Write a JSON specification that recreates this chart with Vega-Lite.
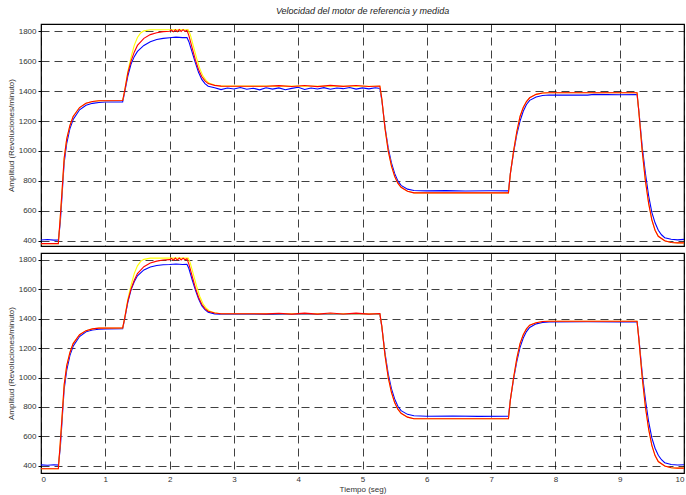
{
"$schema": "https://vega.github.io/schema/vega-lite/v6.json",
"padding": {"left": 6, "top": 7, "right": 0, "bottom": 2},
"background": "white",
"title": {"text": "Velocidad del motor de referencia y medida", "anchor": "middle", "frame": "group", "fontStyle": "italic", "fontWeight": "normal", "fontSize": 9, "font": "Liberation Sans", "color": "#222", "offset": 7},
"config": {
  "font": "Liberation Sans",
  "view": {"stroke": "black", "strokeWidth": 1.2},
  "axis": {"grid": true, "gridDash": [8, 5], "gridColor": "#000", "gridOpacity": 0.75, "gridWidth": 1, "domain": false, "tickColor": "#000", "tickSize": 3, "labelFontSize": 8, "labelColor": "#333", "titleFontSize": 8, "titleFontWeight": "normal", "titleColor": "#333", "format": "d"},
  "concat": {"spacing": 5}
},
"datasets": {
"d": [
{"p":1,"s":"B","t":0,"v":405},{"p":1,"s":"B","t":0.1,"v":408},{"p":1,"s":"B","t":0.2,"v":404},{"p":1,"s":"B","t":0.27,"v":406},{"p":1,"s":"B","t":0.3,"v":520},{"p":1,"s":"B","t":0.33,"v":720},{"p":1,"s":"B","t":0.36,"v":920},{"p":1,"s":"B","t":0.4,"v":1050},{"p":1,"s":"B","t":0.45,"v":1150},{"p":1,"s":"B","t":0.5,"v":1210},{"p":1,"s":"B","t":0.6,"v":1275},{"p":1,"s":"B","t":0.7,"v":1305},{"p":1,"s":"B","t":0.8,"v":1318},{"p":1,"s":"B","t":0.9,"v":1324},{"p":1,"s":"B","t":1.0,"v":1327},{"p":1,"s":"B","t":1.27,"v":1328},{"p":1,"s":"B","t":1.3,"v":1390},{"p":1,"s":"B","t":1.35,"v":1500},{"p":1,"s":"B","t":1.4,"v":1580},{"p":1,"s":"B","t":1.45,"v":1630},{"p":1,"s":"B","t":1.5,"v":1665},{"p":1,"s":"B","t":1.6,"v":1705},{"p":1,"s":"B","t":1.7,"v":1730},{"p":1,"s":"B","t":1.8,"v":1745},{"p":1,"s":"B","t":1.9,"v":1752},{"p":1,"s":"B","t":2.0,"v":1756},{"p":1,"s":"B","t":2.1,"v":1760},{"p":1,"s":"B","t":2.2,"v":1757},{"p":1,"s":"B","t":2.27,"v":1758},{"p":1,"s":"B","t":2.3,"v":1730},{"p":1,"s":"B","t":2.35,"v":1660},{"p":1,"s":"B","t":2.4,"v":1590},{"p":1,"s":"B","t":2.45,"v":1525},{"p":1,"s":"B","t":2.5,"v":1478},{"p":1,"s":"B","t":2.55,"v":1450},{"p":1,"s":"B","t":2.6,"v":1432},{"p":1,"s":"B","t":2.7,"v":1422},{"p":1,"s":"B","t":2.8,"v":1410},{"p":1,"s":"B","t":2.9,"v":1420},{"p":1,"s":"B","t":3.0,"v":1414},{"p":1,"s":"B","t":3.1,"v":1424},{"p":1,"s":"B","t":3.2,"v":1412},{"p":1,"s":"B","t":3.3,"v":1419},{"p":1,"s":"B","t":3.4,"v":1408},{"p":1,"s":"B","t":3.5,"v":1422},{"p":1,"s":"B","t":3.6,"v":1413},{"p":1,"s":"B","t":3.7,"v":1421},{"p":1,"s":"B","t":3.8,"v":1409},{"p":1,"s":"B","t":3.9,"v":1418},{"p":1,"s":"B","t":4.0,"v":1425},{"p":1,"s":"B","t":4.1,"v":1411},{"p":1,"s":"B","t":4.2,"v":1420},{"p":1,"s":"B","t":4.3,"v":1414},{"p":1,"s":"B","t":4.4,"v":1423},{"p":1,"s":"B","t":4.5,"v":1412},{"p":1,"s":"B","t":4.6,"v":1420},{"p":1,"s":"B","t":4.7,"v":1416},{"p":1,"s":"B","t":4.8,"v":1424},{"p":1,"s":"B","t":4.9,"v":1413},{"p":1,"s":"B","t":5.0,"v":1421},{"p":1,"s":"B","t":5.1,"v":1415},{"p":1,"s":"B","t":5.2,"v":1422},{"p":1,"s":"B","t":5.27,"v":1418},{"p":1,"s":"B","t":5.3,"v":1340},{"p":1,"s":"B","t":5.35,"v":1160},{"p":1,"s":"B","t":5.4,"v":1020},{"p":1,"s":"B","t":5.45,"v":920},{"p":1,"s":"B","t":5.5,"v":850},{"p":1,"s":"B","t":5.55,"v":800},{"p":1,"s":"B","t":5.6,"v":770},{"p":1,"s":"B","t":5.7,"v":745},{"p":1,"s":"B","t":5.8,"v":736},{"p":1,"s":"B","t":6.0,"v":733},{"p":1,"s":"B","t":6.3,"v":735},{"p":1,"s":"B","t":6.6,"v":732},{"p":1,"s":"B","t":7.0,"v":734},{"p":1,"s":"B","t":7.27,"v":733},{"p":1,"s":"B","t":7.3,"v":850},{"p":1,"s":"B","t":7.35,"v":990},{"p":1,"s":"B","t":7.4,"v":1110},{"p":1,"s":"B","t":7.45,"v":1200},{"p":1,"s":"B","t":7.5,"v":1265},{"p":1,"s":"B","t":7.55,"v":1310},{"p":1,"s":"B","t":7.6,"v":1338},{"p":1,"s":"B","t":7.7,"v":1360},{"p":1,"s":"B","t":7.8,"v":1370},{"p":1,"s":"B","t":7.9,"v":1374},{"p":1,"s":"B","t":8.5,"v":1373},{"p":1,"s":"B","t":8.6,"v":1378},{"p":1,"s":"B","t":9.0,"v":1375},{"p":1,"s":"B","t":9.27,"v":1376},{"p":1,"s":"B","t":9.3,"v":1260},{"p":1,"s":"B","t":9.35,"v":1030},{"p":1,"s":"B","t":9.4,"v":850},{"p":1,"s":"B","t":9.45,"v":700},{"p":1,"s":"B","t":9.5,"v":590},{"p":1,"s":"B","t":9.55,"v":520},{"p":1,"s":"B","t":9.6,"v":470},{"p":1,"s":"B","t":9.65,"v":440},{"p":1,"s":"B","t":9.7,"v":420},{"p":1,"s":"B","t":9.8,"v":410},{"p":1,"s":"B","t":9.9,"v":406},{"p":1,"s":"B","t":10,"v":409},

{"p":1,"s":"Y","t":0,"v":381},{"p":1,"s":"Y","t":0.27,"v":381},{"p":1,"s":"Y","t":0.3,"v":560},{"p":1,"s":"Y","t":0.33,"v":750},{"p":1,"s":"Y","t":0.36,"v":950},{"p":1,"s":"Y","t":0.4,"v":1080},{"p":1,"s":"Y","t":0.45,"v":1170},{"p":1,"s":"Y","t":0.5,"v":1230},{"p":1,"s":"Y","t":0.6,"v":1290},{"p":1,"s":"Y","t":0.7,"v":1318},{"p":1,"s":"Y","t":0.8,"v":1330},{"p":1,"s":"Y","t":0.9,"v":1335},{"p":1,"s":"Y","t":1.27,"v":1337},{"p":1,"s":"Y","t":1.3,"v":1400},{"p":1,"s":"Y","t":1.35,"v":1530},{"p":1,"s":"Y","t":1.4,"v":1625},{"p":1,"s":"Y","t":1.45,"v":1705},{"p":1,"s":"Y","t":1.5,"v":1758},{"p":1,"s":"Y","t":1.55,"v":1788},{"p":1,"s":"Y","t":1.6,"v":1802},{"p":1,"s":"Y","t":1.7,"v":1810},{"p":1,"s":"Y","t":2.29,"v":1810},{"p":1,"s":"Y","t":2.32,"v":1780},{"p":1,"s":"Y","t":2.37,"v":1700},{"p":1,"s":"Y","t":2.42,"v":1620},{"p":1,"s":"Y","t":2.47,"v":1550},{"p":1,"s":"Y","t":2.52,"v":1500},{"p":1,"s":"Y","t":2.57,"v":1470},{"p":1,"s":"Y","t":2.62,"v":1452},{"p":1,"s":"Y","t":2.7,"v":1440},{"p":1,"s":"Y","t":2.8,"v":1433},{"p":1,"s":"Y","t":5.27,"v":1432},{"p":1,"s":"Y","t":5.3,"v":1350},{"p":1,"s":"Y","t":5.35,"v":1150},{"p":1,"s":"Y","t":5.4,"v":1000},{"p":1,"s":"Y","t":5.45,"v":900},{"p":1,"s":"Y","t":5.5,"v":830},{"p":1,"s":"Y","t":5.55,"v":785},{"p":1,"s":"Y","t":5.6,"v":757},{"p":1,"s":"Y","t":5.7,"v":731},{"p":1,"s":"Y","t":5.8,"v":720},{"p":1,"s":"Y","t":7.27,"v":720},{"p":1,"s":"Y","t":7.3,"v":850},{"p":1,"s":"Y","t":7.35,"v":1000},{"p":1,"s":"Y","t":7.4,"v":1130},{"p":1,"s":"Y","t":7.45,"v":1230},{"p":1,"s":"Y","t":7.5,"v":1290},{"p":1,"s":"Y","t":7.55,"v":1330},{"p":1,"s":"Y","t":7.6,"v":1355},{"p":1,"s":"Y","t":7.7,"v":1378},{"p":1,"s":"Y","t":7.8,"v":1387},{"p":1,"s":"Y","t":7.9,"v":1389},{"p":1,"s":"Y","t":9.27,"v":1389},{"p":1,"s":"Y","t":9.3,"v":1250},{"p":1,"s":"Y","t":9.35,"v":1000},{"p":1,"s":"Y","t":9.4,"v":800},{"p":1,"s":"Y","t":9.45,"v":650},{"p":1,"s":"Y","t":9.5,"v":540},{"p":1,"s":"Y","t":9.55,"v":470},{"p":1,"s":"Y","t":9.6,"v":430},{"p":1,"s":"Y","t":9.7,"v":400},{"p":1,"s":"Y","t":9.8,"v":388},{"p":1,"s":"Y","t":9.9,"v":386},{"p":1,"s":"Y","t":10,"v":386},

{"p":1,"s":"R","t":0,"v":381},{"p":1,"s":"R","t":0.27,"v":381},{"p":1,"s":"R","t":0.3,"v":560},{"p":1,"s":"R","t":0.33,"v":750},{"p":1,"s":"R","t":0.36,"v":950},{"p":1,"s":"R","t":0.4,"v":1080},{"p":1,"s":"R","t":0.45,"v":1170},{"p":1,"s":"R","t":0.5,"v":1230},{"p":1,"s":"R","t":0.6,"v":1290},{"p":1,"s":"R","t":0.7,"v":1318},{"p":1,"s":"R","t":0.8,"v":1330},{"p":1,"s":"R","t":0.9,"v":1335},{"p":1,"s":"R","t":1.27,"v":1337},{"p":1,"s":"R","t":1.3,"v":1400},{"p":1,"s":"R","t":1.35,"v":1520},{"p":1,"s":"R","t":1.4,"v":1600},{"p":1,"s":"R","t":1.45,"v":1660},{"p":1,"s":"R","t":1.5,"v":1705},{"p":1,"s":"R","t":1.6,"v":1752},{"p":1,"s":"R","t":1.7,"v":1777},{"p":1,"s":"R","t":1.8,"v":1790},{"p":1,"s":"R","t":1.9,"v":1797},{"p":1,"s":"R","t":2.0,"v":1800},{"p":1,"s":"R","t":2.03,"v":1808},{"p":1,"s":"R","t":2.06,"v":1796},{"p":1,"s":"R","t":2.09,"v":1810},{"p":1,"s":"R","t":2.12,"v":1797},{"p":1,"s":"R","t":2.15,"v":1811},{"p":1,"s":"R","t":2.18,"v":1798},{"p":1,"s":"R","t":2.21,"v":1810},{"p":1,"s":"R","t":2.24,"v":1799},{"p":1,"s":"R","t":2.27,"v":1806},{"p":1,"s":"R","t":2.3,"v":1770},{"p":1,"s":"R","t":2.35,"v":1690},{"p":1,"s":"R","t":2.4,"v":1610},{"p":1,"s":"R","t":2.45,"v":1545},{"p":1,"s":"R","t":2.5,"v":1497},{"p":1,"s":"R","t":2.55,"v":1468},{"p":1,"s":"R","t":2.6,"v":1450},{"p":1,"s":"R","t":2.7,"v":1438},{"p":1,"s":"R","t":2.8,"v":1433},{"p":1,"s":"R","t":3.5,"v":1432},{"p":1,"s":"R","t":3.7,"v":1436},{"p":1,"s":"R","t":3.9,"v":1430},{"p":1,"s":"R","t":4.1,"v":1437},{"p":1,"s":"R","t":4.3,"v":1430},{"p":1,"s":"R","t":4.5,"v":1438},{"p":1,"s":"R","t":4.7,"v":1431},{"p":1,"s":"R","t":4.9,"v":1437},{"p":1,"s":"R","t":5.1,"v":1430},{"p":1,"s":"R","t":5.27,"v":1434},{"p":1,"s":"R","t":5.3,"v":1350},{"p":1,"s":"R","t":5.35,"v":1150},{"p":1,"s":"R","t":5.4,"v":1000},{"p":1,"s":"R","t":5.45,"v":900},{"p":1,"s":"R","t":5.5,"v":830},{"p":1,"s":"R","t":5.55,"v":785},{"p":1,"s":"R","t":5.6,"v":757},{"p":1,"s":"R","t":5.7,"v":731},{"p":1,"s":"R","t":5.8,"v":720},{"p":1,"s":"R","t":7.27,"v":720},{"p":1,"s":"R","t":7.3,"v":850},{"p":1,"s":"R","t":7.35,"v":1000},{"p":1,"s":"R","t":7.4,"v":1130},{"p":1,"s":"R","t":7.45,"v":1230},{"p":1,"s":"R","t":7.5,"v":1290},{"p":1,"s":"R","t":7.55,"v":1330},{"p":1,"s":"R","t":7.6,"v":1355},{"p":1,"s":"R","t":7.7,"v":1378},{"p":1,"s":"R","t":7.8,"v":1387},{"p":1,"s":"R","t":7.9,"v":1389},{"p":1,"s":"R","t":9.27,"v":1389},{"p":1,"s":"R","t":9.3,"v":1250},{"p":1,"s":"R","t":9.35,"v":1000},{"p":1,"s":"R","t":9.4,"v":800},{"p":1,"s":"R","t":9.45,"v":650},{"p":1,"s":"R","t":9.5,"v":540},{"p":1,"s":"R","t":9.55,"v":470},{"p":1,"s":"R","t":9.6,"v":430},{"p":1,"s":"R","t":9.7,"v":400},{"p":1,"s":"R","t":9.8,"v":388},{"p":1,"s":"R","t":9.9,"v":386},{"p":1,"s":"R","t":10,"v":386},

{"p":2,"s":"B","t":0,"v":407},{"p":2,"s":"B","t":0.1,"v":405},{"p":2,"s":"B","t":0.2,"v":408},{"p":2,"s":"B","t":0.27,"v":406},{"p":2,"s":"B","t":0.3,"v":520},{"p":2,"s":"B","t":0.33,"v":720},{"p":2,"s":"B","t":0.36,"v":920},{"p":2,"s":"B","t":0.4,"v":1050},{"p":2,"s":"B","t":0.45,"v":1150},{"p":2,"s":"B","t":0.5,"v":1212},{"p":2,"s":"B","t":0.6,"v":1278},{"p":2,"s":"B","t":0.7,"v":1310},{"p":2,"s":"B","t":0.8,"v":1323},{"p":2,"s":"B","t":0.9,"v":1328},{"p":2,"s":"B","t":1.0,"v":1330},{"p":2,"s":"B","t":1.27,"v":1331},{"p":2,"s":"B","t":1.3,"v":1395},{"p":2,"s":"B","t":1.35,"v":1510},{"p":2,"s":"B","t":1.4,"v":1595},{"p":2,"s":"B","t":1.45,"v":1650},{"p":2,"s":"B","t":1.5,"v":1690},{"p":2,"s":"B","t":1.6,"v":1730},{"p":2,"s":"B","t":1.7,"v":1750},{"p":2,"s":"B","t":1.8,"v":1760},{"p":2,"s":"B","t":1.9,"v":1765},{"p":2,"s":"B","t":2.0,"v":1767},{"p":2,"s":"B","t":2.1,"v":1770},{"p":2,"s":"B","t":2.2,"v":1767},{"p":2,"s":"B","t":2.27,"v":1768},{"p":2,"s":"B","t":2.3,"v":1740},{"p":2,"s":"B","t":2.35,"v":1665},{"p":2,"s":"B","t":2.4,"v":1595},{"p":2,"s":"B","t":2.45,"v":1535},{"p":2,"s":"B","t":2.5,"v":1488},{"p":2,"s":"B","t":2.55,"v":1460},{"p":2,"s":"B","t":2.6,"v":1443},{"p":2,"s":"B","t":2.7,"v":1432},{"p":2,"s":"B","t":2.8,"v":1429},{"p":2,"s":"B","t":3.2,"v":1431},{"p":2,"s":"B","t":3.6,"v":1428},{"p":2,"s":"B","t":4.0,"v":1431},{"p":2,"s":"B","t":4.5,"v":1429},{"p":2,"s":"B","t":5.0,"v":1431},{"p":2,"s":"B","t":5.27,"v":1430},{"p":2,"s":"B","t":5.3,"v":1345},{"p":2,"s":"B","t":5.35,"v":1165},{"p":2,"s":"B","t":5.4,"v":1025},{"p":2,"s":"B","t":5.45,"v":925},{"p":2,"s":"B","t":5.5,"v":855},{"p":2,"s":"B","t":5.55,"v":805},{"p":2,"s":"B","t":5.6,"v":775},{"p":2,"s":"B","t":5.7,"v":750},{"p":2,"s":"B","t":5.8,"v":741},{"p":2,"s":"B","t":6.0,"v":737},{"p":2,"s":"B","t":6.4,"v":739},{"p":2,"s":"B","t":6.8,"v":736},{"p":2,"s":"B","t":7.27,"v":737},{"p":2,"s":"B","t":7.3,"v":850},{"p":2,"s":"B","t":7.35,"v":990},{"p":2,"s":"B","t":7.4,"v":1110},{"p":2,"s":"B","t":7.45,"v":1205},{"p":2,"s":"B","t":7.5,"v":1268},{"p":2,"s":"B","t":7.55,"v":1312},{"p":2,"s":"B","t":7.6,"v":1340},{"p":2,"s":"B","t":7.7,"v":1364},{"p":2,"s":"B","t":7.8,"v":1374},{"p":2,"s":"B","t":7.9,"v":1377},{"p":2,"s":"B","t":8.5,"v":1378},{"p":2,"s":"B","t":9.0,"v":1377},{"p":2,"s":"B","t":9.27,"v":1378},{"p":2,"s":"B","t":9.3,"v":1260},{"p":2,"s":"B","t":9.35,"v":1030},{"p":2,"s":"B","t":9.4,"v":850},{"p":2,"s":"B","t":9.45,"v":700},{"p":2,"s":"B","t":9.5,"v":590},{"p":2,"s":"B","t":9.55,"v":520},{"p":2,"s":"B","t":9.6,"v":472},{"p":2,"s":"B","t":9.65,"v":442},{"p":2,"s":"B","t":9.7,"v":422},{"p":2,"s":"B","t":9.8,"v":410},{"p":2,"s":"B","t":9.9,"v":406},{"p":2,"s":"B","t":10,"v":408},

{"p":2,"s":"Y","t":0,"v":381},{"p":2,"s":"Y","t":0.27,"v":381},{"p":2,"s":"Y","t":0.3,"v":560},{"p":2,"s":"Y","t":0.33,"v":750},{"p":2,"s":"Y","t":0.36,"v":950},{"p":2,"s":"Y","t":0.4,"v":1080},{"p":2,"s":"Y","t":0.45,"v":1170},{"p":2,"s":"Y","t":0.5,"v":1230},{"p":2,"s":"Y","t":0.6,"v":1290},{"p":2,"s":"Y","t":0.7,"v":1318},{"p":2,"s":"Y","t":0.8,"v":1330},{"p":2,"s":"Y","t":0.9,"v":1335},{"p":2,"s":"Y","t":1.27,"v":1337},{"p":2,"s":"Y","t":1.3,"v":1400},{"p":2,"s":"Y","t":1.35,"v":1530},{"p":2,"s":"Y","t":1.4,"v":1625},{"p":2,"s":"Y","t":1.45,"v":1705},{"p":2,"s":"Y","t":1.5,"v":1758},{"p":2,"s":"Y","t":1.55,"v":1788},{"p":2,"s":"Y","t":1.6,"v":1802},{"p":2,"s":"Y","t":1.7,"v":1810},{"p":2,"s":"Y","t":2.29,"v":1810},{"p":2,"s":"Y","t":2.32,"v":1780},{"p":2,"s":"Y","t":2.37,"v":1700},{"p":2,"s":"Y","t":2.42,"v":1620},{"p":2,"s":"Y","t":2.47,"v":1550},{"p":2,"s":"Y","t":2.52,"v":1500},{"p":2,"s":"Y","t":2.57,"v":1470},{"p":2,"s":"Y","t":2.62,"v":1452},{"p":2,"s":"Y","t":2.7,"v":1440},{"p":2,"s":"Y","t":2.8,"v":1433},{"p":2,"s":"Y","t":5.27,"v":1432},{"p":2,"s":"Y","t":5.3,"v":1350},{"p":2,"s":"Y","t":5.35,"v":1150},{"p":2,"s":"Y","t":5.4,"v":1000},{"p":2,"s":"Y","t":5.45,"v":900},{"p":2,"s":"Y","t":5.5,"v":830},{"p":2,"s":"Y","t":5.55,"v":785},{"p":2,"s":"Y","t":5.6,"v":757},{"p":2,"s":"Y","t":5.7,"v":731},{"p":2,"s":"Y","t":5.8,"v":720},{"p":2,"s":"Y","t":7.27,"v":720},{"p":2,"s":"Y","t":7.3,"v":850},{"p":2,"s":"Y","t":7.35,"v":1000},{"p":2,"s":"Y","t":7.4,"v":1130},{"p":2,"s":"Y","t":7.45,"v":1230},{"p":2,"s":"Y","t":7.5,"v":1290},{"p":2,"s":"Y","t":7.55,"v":1330},{"p":2,"s":"Y","t":7.6,"v":1355},{"p":2,"s":"Y","t":7.7,"v":1372},{"p":2,"s":"Y","t":7.8,"v":1380},{"p":2,"s":"Y","t":7.9,"v":1382},{"p":2,"s":"Y","t":9.27,"v":1382},{"p":2,"s":"Y","t":9.3,"v":1250},{"p":2,"s":"Y","t":9.35,"v":1000},{"p":2,"s":"Y","t":9.4,"v":800},{"p":2,"s":"Y","t":9.45,"v":650},{"p":2,"s":"Y","t":9.5,"v":540},{"p":2,"s":"Y","t":9.55,"v":470},{"p":2,"s":"Y","t":9.6,"v":430},{"p":2,"s":"Y","t":9.7,"v":400},{"p":2,"s":"Y","t":9.8,"v":388},{"p":2,"s":"Y","t":9.9,"v":385},{"p":2,"s":"Y","t":10,"v":385},

{"p":2,"s":"R","t":0,"v":381},{"p":2,"s":"R","t":0.27,"v":381},{"p":2,"s":"R","t":0.3,"v":560},{"p":2,"s":"R","t":0.33,"v":750},{"p":2,"s":"R","t":0.36,"v":950},{"p":2,"s":"R","t":0.4,"v":1080},{"p":2,"s":"R","t":0.45,"v":1170},{"p":2,"s":"R","t":0.5,"v":1230},{"p":2,"s":"R","t":0.6,"v":1290},{"p":2,"s":"R","t":0.7,"v":1318},{"p":2,"s":"R","t":0.8,"v":1330},{"p":2,"s":"R","t":0.9,"v":1335},{"p":2,"s":"R","t":1.27,"v":1337},{"p":2,"s":"R","t":1.3,"v":1400},{"p":2,"s":"R","t":1.35,"v":1520},{"p":2,"s":"R","t":1.4,"v":1600},{"p":2,"s":"R","t":1.45,"v":1660},{"p":2,"s":"R","t":1.5,"v":1705},{"p":2,"s":"R","t":1.6,"v":1752},{"p":2,"s":"R","t":1.7,"v":1777},{"p":2,"s":"R","t":1.8,"v":1790},{"p":2,"s":"R","t":1.9,"v":1797},{"p":2,"s":"R","t":2.0,"v":1800},{"p":2,"s":"R","t":2.03,"v":1808},{"p":2,"s":"R","t":2.06,"v":1796},{"p":2,"s":"R","t":2.09,"v":1810},{"p":2,"s":"R","t":2.12,"v":1797},{"p":2,"s":"R","t":2.15,"v":1811},{"p":2,"s":"R","t":2.18,"v":1798},{"p":2,"s":"R","t":2.21,"v":1810},{"p":2,"s":"R","t":2.24,"v":1799},{"p":2,"s":"R","t":2.27,"v":1806},{"p":2,"s":"R","t":2.3,"v":1770},{"p":2,"s":"R","t":2.35,"v":1690},{"p":2,"s":"R","t":2.4,"v":1610},{"p":2,"s":"R","t":2.45,"v":1545},{"p":2,"s":"R","t":2.5,"v":1497},{"p":2,"s":"R","t":2.55,"v":1468},{"p":2,"s":"R","t":2.6,"v":1450},{"p":2,"s":"R","t":2.7,"v":1438},{"p":2,"s":"R","t":2.8,"v":1433},{"p":2,"s":"R","t":3.5,"v":1432},{"p":2,"s":"R","t":3.7,"v":1436},{"p":2,"s":"R","t":3.9,"v":1430},{"p":2,"s":"R","t":4.1,"v":1437},{"p":2,"s":"R","t":4.3,"v":1430},{"p":2,"s":"R","t":4.5,"v":1438},{"p":2,"s":"R","t":4.7,"v":1431},{"p":2,"s":"R","t":4.9,"v":1437},{"p":2,"s":"R","t":5.1,"v":1430},{"p":2,"s":"R","t":5.27,"v":1434},{"p":2,"s":"R","t":5.3,"v":1350},{"p":2,"s":"R","t":5.35,"v":1150},{"p":2,"s":"R","t":5.4,"v":1000},{"p":2,"s":"R","t":5.45,"v":900},{"p":2,"s":"R","t":5.5,"v":830},{"p":2,"s":"R","t":5.55,"v":785},{"p":2,"s":"R","t":5.6,"v":757},{"p":2,"s":"R","t":5.7,"v":731},{"p":2,"s":"R","t":5.8,"v":720},{"p":2,"s":"R","t":7.27,"v":720},{"p":2,"s":"R","t":7.3,"v":850},{"p":2,"s":"R","t":7.35,"v":1000},{"p":2,"s":"R","t":7.4,"v":1130},{"p":2,"s":"R","t":7.45,"v":1230},{"p":2,"s":"R","t":7.5,"v":1290},{"p":2,"s":"R","t":7.55,"v":1330},{"p":2,"s":"R","t":7.6,"v":1355},{"p":2,"s":"R","t":7.7,"v":1372},{"p":2,"s":"R","t":7.8,"v":1380},{"p":2,"s":"R","t":7.9,"v":1382},{"p":2,"s":"R","t":9.27,"v":1382},{"p":2,"s":"R","t":9.3,"v":1250},{"p":2,"s":"R","t":9.35,"v":1000},{"p":2,"s":"R","t":9.4,"v":800},{"p":2,"s":"R","t":9.45,"v":650},{"p":2,"s":"R","t":9.5,"v":540},{"p":2,"s":"R","t":9.55,"v":470},{"p":2,"s":"R","t":9.6,"v":430},{"p":2,"s":"R","t":9.7,"v":400},{"p":2,"s":"R","t":9.8,"v":388},{"p":2,"s":"R","t":9.9,"v":385},{"p":2,"s":"R","t":10,"v":385}
]
},
"vconcat": [
 {
  "width": 643, "height": 222,
  "data": {"name": "d"},
  "transform": [{"filter": "datum.p == 1"}],
  "mark": {"type": "line", "clip": true, "strokeWidth": 1.1, "interpolate": "linear"},
  "encoding": {
    "x": {"field": "t", "type": "quantitative", "scale": {"domain": [0, 10], "nice": false}, "axis": {"values": [0,1,2,3,4,5,6,7,8,9,10], "labels": false, "title": null, "ticks": false}},
    "y": {"field": "v", "type": "quantitative", "scale": {"domain": [365, 1848], "nice": false, "zero": false}, "axis": {"values": [400,600,800,1000,1200,1400,1600,1800], "title": "Amplitud (Revoluciones/minuto)", "titlePadding": 3, "labelPadding": 2}},
    "color": {"field": "s", "type": "nominal", "scale": {"domain": ["B", "Y", "R"], "range": ["#0000ff", "#ffff00", "#ff0000"]}, "legend": null}
  }
 },
 {
  "width": 643, "height": 220,
  "data": {"name": "d"},
  "transform": [{"filter": "datum.p == 2"}],
  "mark": {"type": "line", "clip": true, "strokeWidth": 1.1, "interpolate": "linear"},
  "encoding": {
    "x": {"field": "t", "type": "quantitative", "scale": {"domain": [0, 10], "nice": false}, "axis": {"values": [0,1,2,3,4,5,6,7,8,9,10], "title": "Tiempo (seg)", "titlePadding": 2, "labelPadding": 2, "ticks": false}},
    "y": {"field": "v", "type": "quantitative", "scale": {"domain": [352, 1845], "nice": false, "zero": false}, "axis": {"values": [400,600,800,1000,1200,1400,1600,1800], "title": "Amplitud (Revoluciones/minuto)", "titlePadding": 3, "labelPadding": 2}},
    "color": {"field": "s", "type": "nominal", "scale": {"domain": ["B", "Y", "R"], "range": ["#0000ff", "#ffff00", "#ff0000"]}, "legend": null}
  }
 }
]
}
